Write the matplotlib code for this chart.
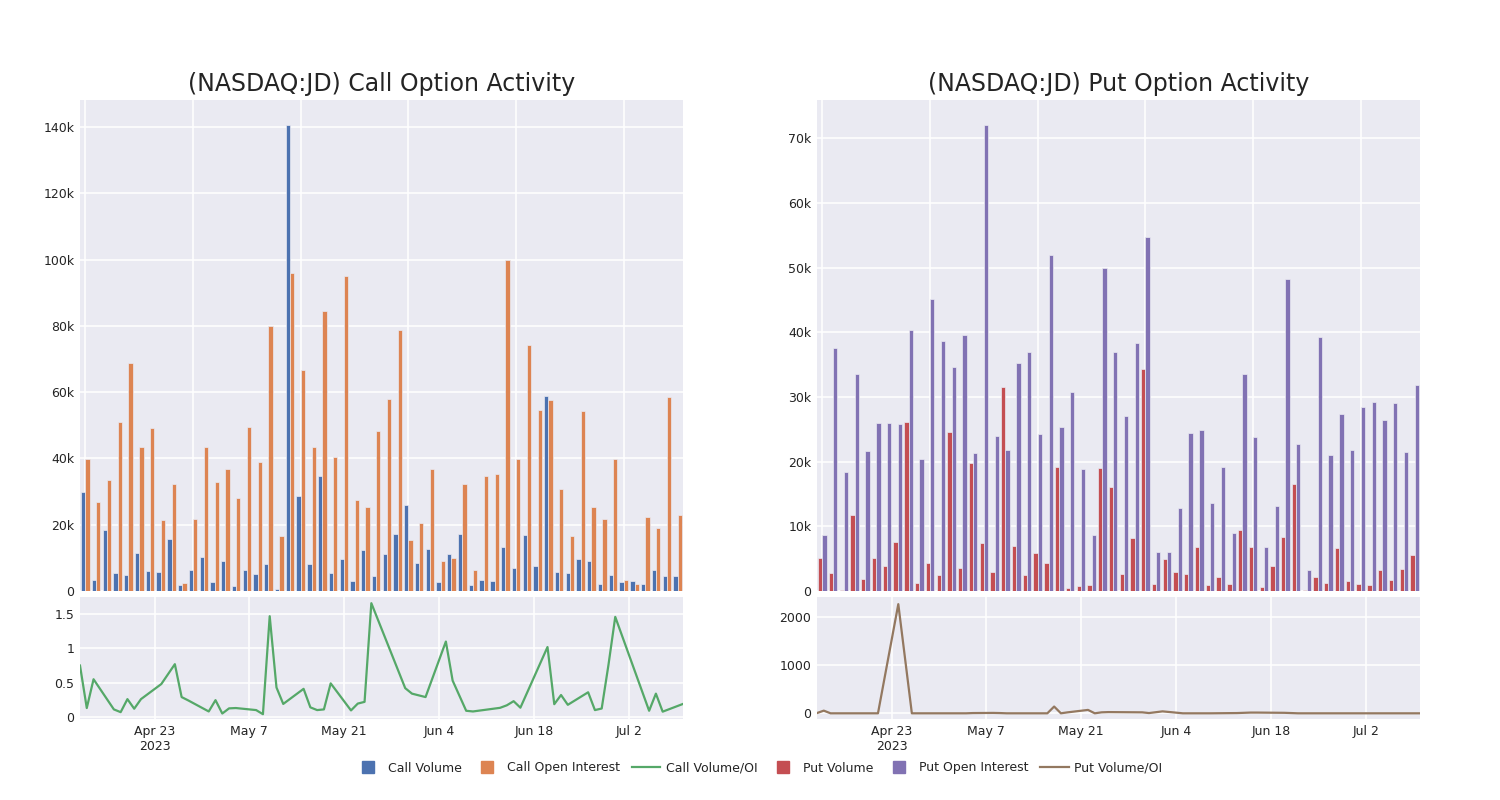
import numpy as np
import pandas as pd
import matplotlib
matplotlib.use('Agg')
import matplotlib.pyplot as plt
from matplotlib.lines import Line2D
from matplotlib.ticker import FuncFormatter

# trading days shown (categorical on bar panels, real dates on ratio panels)
dates = ['2023-04-12', '2023-04-13', '2023-04-14', '2023-04-17', '2023-04-18', '2023-04-19',
         '2023-04-20', '2023-04-21', '2023-04-24', '2023-04-26', '2023-04-27', '2023-04-28',
         '2023-05-01', '2023-05-02', '2023-05-03', '2023-05-04', '2023-05-05', '2023-05-08',
         '2023-05-09', '2023-05-10', '2023-05-11', '2023-05-12', '2023-05-15', '2023-05-16',
         '2023-05-17', '2023-05-18', '2023-05-19', '2023-05-22', '2023-05-23', '2023-05-24',
         '2023-05-25', '2023-05-30', '2023-05-31', '2023-06-02', '2023-06-05', '2023-06-06',
         '2023-06-07', '2023-06-08', '2023-06-09', '2023-06-13', '2023-06-14', '2023-06-15',
         '2023-06-16', '2023-06-20', '2023-06-21', '2023-06-22', '2023-06-23', '2023-06-26',
         '2023-06-27', '2023-06-28', '2023-06-29', '2023-06-30', '2023-07-05', '2023-07-06',
         '2023-07-07', '2023-07-10']

# values in thousands of contracts
call_volume = [29.9, 3.4, 18.3, 5.5, 4.8, 11.5, 6.0, 5.6, 15.7, 1.9,
               6.3, 10.4, 2.7, 9.0, 1.4, 6.2, 5.2, 8.0, 0.7, 140.8,
               28.7, 8.1, 34.8, 5.5, 9.7, 3.0, 12.3, 4.6, 11.3, 17.1,
               26.0, 8.6, 12.6, 2.6, 11.1, 17.1, 1.9, 3.2, 2.9, 13.3,
               6.9, 17.0, 7.4, 59.0, 5.7, 5.3, 9.6, 9.2, 2.2, 4.9,
               2.6, 3.1, 2.0, 6.4, 4.5, 4.4]
call_oi = [39.8, 26.9, 33.4, 51.1, 68.7, 43.6, 49.2, 21.3, 32.4, 2.5,
           21.8, 43.5, 32.9, 36.7, 28.0, 49.6, 39.0, 80.1, 16.6, 96.0,
           66.6, 43.4, 84.6, 40.3, 95.2, 27.5, 25.3, 48.3, 58.0, 78.8,
           15.5, 20.6, 36.9, 9.0, 10.0, 32.3, 6.2, 34.8, 35.4, 100.0,
           39.9, 74.2, 54.6, 57.5, 30.7, 16.5, 54.3, 25.5, 21.8, 39.8,
           3.4, 2.1, 22.4, 19.0, 58.5, 22.8]
call_ratio = [0.75, 0.13, 0.55, 0.11, 0.07, 0.26, 0.12, 0.26, 0.48, 0.77,
              0.29, 0.24, 0.08, 0.245, 0.05, 0.125, 0.13, 0.10, 0.04, 1.47,
              0.43, 0.19, 0.41, 0.14, 0.10, 0.11, 0.49, 0.095, 0.195, 0.22,
              1.66, 0.42, 0.34, 0.29, 1.10, 0.53, 0.31, 0.09, 0.08, 0.133,
              0.17, 0.23, 0.135, 1.02, 0.186, 0.32, 0.177, 0.36, 0.10, 0.123,
              0.76, 1.46, 0.09, 0.34, 0.077, 0.19]

put_volume = [5.05, 2.78, 0.1, 11.8, 1.86, 5.1, 3.8, 7.6, 26.2, 1.24,
              4.3, 2.4, 24.6, 3.6, 19.8, 7.4, 3.0, 31.5, 7.0, 2.4,
              5.9, 4.3, 19.1, 0.5, 0.7, 0.9, 19.0, 16.0, 2.6, 8.2,
              34.3, 1.1, 5.0, 3.0, 2.7, 6.8, 0.9, 2.2, 1.1, 9.4,
              6.8, 0.6, 3.8, 8.3, 16.5, 0.2, 2.1, 1.3, 6.6, 1.5,
              1.1, 0.9, 3.2, 1.7, 3.4, 5.6]
put_oi = [8.66, 37.6, 18.4, 33.5, 21.6, 26.0, 26.0, 25.8, 40.4, 20.4,
          45.2, 38.6, 34.7, 39.6, 21.4, 72.1, 24.0, 21.8, 35.3, 37.0,
          24.2, 51.9, 25.4, 30.7, 18.9, 8.6, 49.9, 36.9, 27.1, 38.4,
          54.7, 6.1, 6.0, 12.8, 24.5, 24.9, 13.6, 19.2, 8.9, 33.5,
          23.8, 6.8, 13.2, 48.2, 22.7, 3.2, 39.3, 21.1, 27.3, 21.8,
          28.5, 29.2, 26.4, 29.0, 21.5, 31.8]
put_ratio = [5, 55, 0, 0, 0, 0, 0, 0, 2260, 0,
             0, 0, 0, 0, 0, 0, 5, 8, 5, 0,
             0, 0, 0, 0, 140, 0, 20, 70, 0, 20,
             25, 20, 5, 40, 0, 0, 0, 0, 0, 5,
             10, 15, 15, 10, 5, 0, 0, 0, 0, 0,
             0, 0, 0, 0, 0, 0]

date_ticks = ['2023-04-23', '2023-05-07', '2023-05-21', '2023-06-04', '2023-06-18', '2023-07-02']
date_tick_labels = ['Apr 23\n2023', 'May 7', 'May 21', 'Jun 4', 'Jun 18', 'Jul 2']

BG = '#EAEAF2'
TXT = '#242424'
C_BLUE, C_ORANGE, C_GREEN = '#4C72B0', '#DD8452', '#55A868'
C_RED, C_PURPLE, C_BROWN = '#C44E52', '#8172B3', '#937860'

plt.rcParams['font.family'] = 'DejaVu Sans'

W, H = 1500, 800
fig = plt.figure(figsize=(15, 8), dpi=100)
fig.patch.set_facecolor('white')


def px_axes(x0, y0, x1, y1):
    return fig.add_axes([x0 / W, 1 - y1 / H, (x1 - x0) / W, (y1 - y0) / H])


def style(ax):
    ax.set_facecolor(BG)
    for s in ax.spines.values():
        s.set_visible(False)
    ax.grid(True, color='white', linewidth=1.1)
    ax.set_axisbelow(True)
    ax.tick_params(length=0, labelsize=9, colors=TXT, pad=4)


k_fmt = FuncFormatter(lambda v, p: '0' if v == 0 else f'{v / 1000:.0f}k')
d = pd.to_datetime(dates)
cat = np.arange(len(dates))
bw = 0.4


def bar_panel(x0, x1, vol, oi, c1, c2, ymax, step):
    ax = px_axes(x0, 100, x1, 591)
    style(ax)
    v = np.array(vol) * 1000
    o = np.array(oi) * 1000
    ax.bar(cat - bw / 2, v, width=bw, color=c1, edgecolor=BG, linewidth=0.5)
    ax.bar(cat + bw / 2, o, width=bw, color=c2, edgecolor=BG, linewidth=0.5)
    ax.set_xlim(-0.5, len(dates) - 0.5)
    ax.set_ylim(0, ymax)
    ax.set_xticks(cat[::10])
    ax.set_xticklabels([])
    ax.set_yticks(np.arange(0, ymax, step))
    ax.yaxis.set_major_formatter(k_fmt)
    return ax


def ratio_panel(x0, x1, vals, color, ylim, yticks, ylabels):
    ax = px_axes(x0, 597, x1, 719)
    style(ax)
    ax.plot(d, vals, color=color, linewidth=1.6)
    ax.set_xlim(d[0], d[-1])
    ax.set_ylim(*ylim)
    ax.set_xticks(pd.to_datetime(date_ticks))
    ax.set_xticklabels(date_tick_labels)
    ax.set_yticks(yticks)
    ax.set_yticklabels(ylabels)
    return ax


bar_panel(80, 683, call_volume, call_oi, C_BLUE, C_ORANGE, 148200, 20000)
ratio_panel(80, 683, call_ratio, C_GREEN, (-0.03, 1.75), [0, 0.5, 1, 1.5], ['0', '0.5', '1', '1.5'])
bar_panel(817, 1420, put_volume, put_oi, C_RED, C_PURPLE, 75900, 10000)
ratio_panel(817, 1420, put_ratio, C_BROWN, (-118, 2408), [0, 1000, 2000], ['0', '1000', '2000'])

fig.text(381.5 / W, 1 - 84 / H, '(NASDAQ:JD) Call Option Activity', ha='center', va='center',
         fontsize=17, color=TXT)
fig.text(1118.5 / W, 1 - 84 / H, '(NASDAQ:JD) Put Option Activity', ha='center', va='center',
         fontsize=17, color=TXT)

handles = [
    Line2D([], [], marker='s', linestyle='none', markersize=9, color=C_BLUE, label='Call Volume'),
    Line2D([], [], marker='s', linestyle='none', markersize=9, color=C_ORANGE, label='Call Open Interest'),
    Line2D([], [], color=C_GREEN, linewidth=1.6, label='Call Volume/OI'),
    Line2D([], [], marker='s', linestyle='none', markersize=9, color=C_RED, label='Put Volume'),
    Line2D([], [], marker='s', linestyle='none', markersize=9, color=C_PURPLE, label='Put Open Interest'),
    Line2D([], [], color=C_BROWN, linewidth=1.6, label='Put Volume/OI'),
]
leg = fig.legend(handles=handles, loc='center', bbox_to_anchor=(758 / W, 1 - 768 / H), ncol=6,
                 frameon=False, fontsize=9, handlelength=2.3, handletextpad=0.45, columnspacing=0.9)
for t in leg.get_texts():
    t.set_color(TXT)

fig.savefig('out.png', dpi=100, facecolor='white')
